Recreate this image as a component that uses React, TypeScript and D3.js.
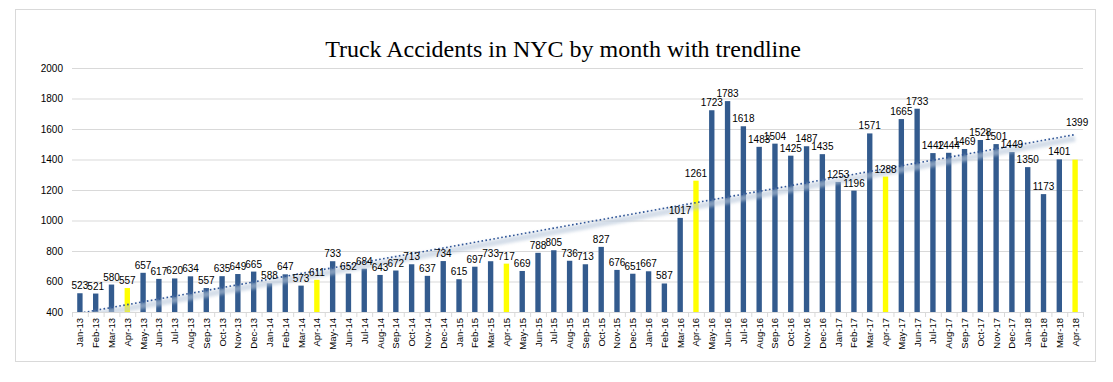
import React from "react";
import * as d3 from "d3";

const months: string[] = [
  "Jan-13","Feb-13","Mar-13","Apr-13","May-13","Jun-13","Jul-13","Aug-13","Sep-13","Oct-13","Nov-13","Dec-13",
  "Jan-14","Feb-14","Mar-14","Apr-14","May-14","Jun-14","Jul-14","Aug-14","Sep-14","Oct-14","Nov-14","Dec-14",
  "Jan-15","Feb-15","Mar-15","Apr-15","May-15","Jun-15","Jul-15","Aug-15","Sep-15","Oct-15","Nov-15","Dec-15",
  "Jan-16","Feb-16","Mar-16","Apr-16","May-16","Jun-16","Jul-16","Aug-16","Sep-16","Oct-16","Nov-16","Dec-16",
  "Jan-17","Feb-17","Mar-17","Apr-17","May-17","Jun-17","Jul-17","Aug-17","Sep-17","Oct-17","Nov-17","Dec-17",
  "Jan-18","Feb-18","Mar-18","Apr-18",
];

const accidents: number[] = [
  523, 521, 580, 557, 657, 617, 620, 634, 557, 635, 649, 665,
  588, 647, 573, 611, 733, 652, 684, 643, 672, 713, 637, 734,
  615, 697, 733, 717, 669, 788, 805, 736, 713, 827, 676, 651,
  667, 587, 1017, 1261, 1723, 1783, 1618, 1483, 1504, 1425, 1487, 1435,
  1253, 1196, 1571, 1288, 1665, 1733, 1442, 1444, 1469, 1528, 1501, 1449,
  1350, 1173, 1401, 1399,
];

const yTicks: number[] = [400, 600, 800, 1000, 1200, 1400, 1600, 1800, 2000];
const title = "Truck Accidents in NYC by month with trendline";

export default function App() {
  const W = 1113, H = 382;
  const left = 72, right = 1083, top = 68, bottom = 312;
  const x = d3.scaleBand<string>().domain(months).range([left, right]).paddingInner(0.66).paddingOuter(0.33);
  const xc = d3.scaleBand<string>().domain(months).range([left, right]);
  const y = d3.scaleLinear().domain([400, 2000]).range([bottom, top]);

  // linear regression trendline
  const n = accidents.length;
  const xs = d3.range(1, n + 1);
  const mx = d3.mean(xs)!;
  const my = d3.mean(accidents)!;
  const slope = d3.sum(xs, (v, i) => (v - mx) * (accidents[i] - my)) / d3.sum(xs, (v) => (v - mx) ** 2);
  const icpt = my - slope * mx;
  const trendPts: [number, number][] = xs.map((v, i) => {
    const cx = xc(months[i])! + xc.bandwidth() / 2;
    return [cx, y(icpt + slope * v)];
  });
  const line = d3.line<[number, number]>();
  const shadow = d3.line<[number, number]>()(trendPts.map(([a, b]) => [a, b + 4] as [number, number]));

  return (
    <svg width={W} height={H} style={{ position: "absolute", left: 0, top: 0, background: "#fff" }}
      fontFamily="'Liberation Sans', Arial, sans-serif">
      <defs>
        <clipPath id="plotClip">
          <rect x={left} y={top} width={right - left} height={bottom - top} />
        </clipPath>
        <filter id="blur" x="-5%" y="-50%" width="110%" height="200%">
          <feGaussianBlur stdDeviation="1.5" />
        </filter>
      </defs>
      <rect x={15.5} y={9.5} width={1080} height={352} fill="#fff" stroke="#d9d9d9" />
      <text x={563} y={57} textAnchor="middle" fontFamily="'Liberation Serif', 'DejaVu Serif', serif" fontSize={24} fill="#000">
        {title}
      </text>
      {yTicks.map((t) => (
        <g key={t}>
          {t !== 400 && <line x1={left} x2={right} y1={y(t) + 0.5} y2={y(t) + 0.5} stroke="#d9d9d9" />}
          <text x={63} y={y(t) + 3.5} textAnchor="end" fontSize={10} fill="#000">{t}</text>
        </g>
      ))}
      {accidents.map((v, i) => (
        <rect key={months[i]} x={x(months[i])} y={y(v)} width={x.bandwidth()} height={bottom - y(v)}
          fill={months[i].startsWith("Apr") ? "#ffff00" : "#335b8e"} />
      ))}
      <g clipPath="url(#plotClip)">
        <path d={shadow!} fill="none" stroke="#b8c7da" strokeWidth={6} opacity={0.6} filter="url(#blur)" />
        <path d={line(trendPts)!} fill="none" stroke="#2f5597" strokeWidth={1.6} strokeDasharray="1.6 2.4" />
      </g>
      <line x1={left} x2={right} y1={bottom + 0.5} y2={bottom + 0.5} stroke="#d9d9d9" />
      {months.map((m) => (
        <line key={"t" + m} x1={xc(m)! + 0.5} x2={xc(m)! + 0.5} y1={bottom} y2={bottom + 5} stroke="#d9d9d9" />
      ))}
      <line x1={right + 0.5} x2={right + 0.5} y1={bottom} y2={bottom + 5} stroke="#d9d9d9" />
      {accidents.map((v, i) => (
        <text key={"l" + months[i]} x={x(months[i])! + x.bandwidth() / 2 + (i === n - 1 ? 2 : 0)}
          y={y(v) - 4 - (i === n - 1 ? 30 : 0)} textAnchor="middle" fontSize={10} fill="#000">
          {v}
        </text>
      ))}
      {months.map((m) => {
        const cx = xc(m)! + xc.bandwidth() / 2;
        return (
          <text key={"x" + m} transform={`translate(${cx + 3.5},${bottom + 6}) rotate(-90)`} textAnchor="end" fontSize={9.5} fill="#000">
            {m}
          </text>
        );
      })}
    </svg>
  );
}
